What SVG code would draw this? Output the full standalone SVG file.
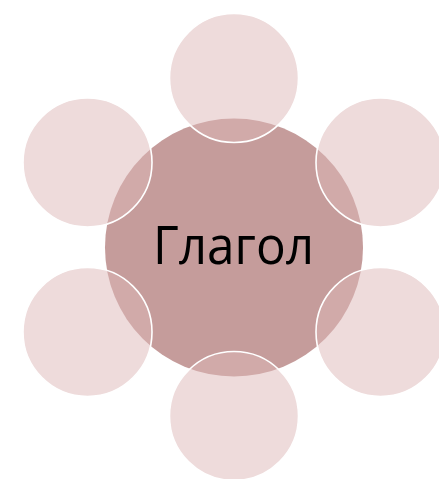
<svg xmlns="http://www.w3.org/2000/svg" width="439" height="479" viewBox="0 0 439 479">
<style>
.center{fill:#C59C9B}
.sat{fill:rgb(222,183,183);fill-opacity:0.5;stroke:#FFFFFF;stroke-width:1.6}
.lbl{font-family:"Open Sans","Liberation Sans",sans-serif;font-size:53px;font-weight:500;fill:#000000}
</style>
<rect width="439" height="479" fill="#FFFFFF"/>
<g id="center">
<circle class="center" cx="234" cy="247.5" r="129"/>
<text class="lbl" x="233.5" y="264" text-anchor="middle" textLength="161" lengthAdjust="spacingAndGlyphs">Глагол</text>
</g>
<g id="sat-top"><circle class="sat" cx="234" cy="78" r="64.5"/></g>
<g id="sat-upper-right"><circle class="sat" cx="380.5" cy="162.5" r="64.5"/></g>
<g id="sat-lower-right"><circle class="sat" cx="380.5" cy="332" r="64.5"/></g>
<g id="sat-bottom"><circle class="sat" cx="234" cy="416" r="64.5"/></g>
<g id="sat-lower-left"><circle class="sat" cx="87.5" cy="332" r="64.5"/></g>
<g id="sat-upper-left"><circle class="sat" cx="87.5" cy="162.5" r="64.5"/></g>
<g id="connectors"></g>
</svg>
